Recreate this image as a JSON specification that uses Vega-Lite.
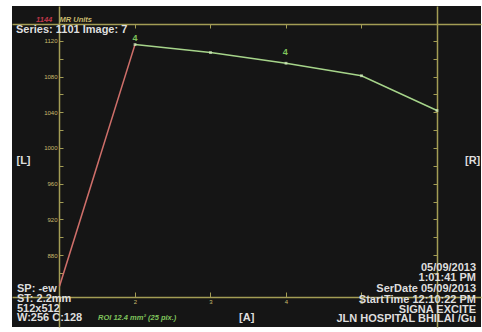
{
  "$schema": "https://vega.github.io/schema/vega-lite/v6.json",
  "width": 469,
  "height": 321,
  "autosize": {"type": "none"},
  "padding": {"left": 12, "top": 6, "right": 1, "bottom": 5},
  "background": "white",
  "config": {
    "view": {"fill": "#151515", "stroke": null},
    "font": "Liberation Sans",
    "axis": {"domainColor": "#a39d55", "tickColor": "#a39d55", "labelColor": "#c9bc6e", "labelFont": "Liberation Sans", "labelFontSize": 6, "grid": false, "title": null, "domainWidth": 1.5, "tickWidth": 1}
  },
  "datasets": {
    "red": [{"t": 1, "v": 845}, {"t": 2, "v": 1116}],
    "green": [{"t": 2, "v": 1116}, {"t": 3, "v": 1107}, {"t": 4, "v": 1095}, {"t": 5, "v": 1081}, {"t": 6, "v": 1042}],
    "notesL": [
      {"x": 0.424, "y": 1132.3, "label": "Series: 1101 Image: 7", "kind": "white"},
      {"x": 0.43, "y": 985.5, "label": "[L]", "kind": "white"},
      {"x": 6.371, "y": 985.5, "label": "[R]", "kind": "white"},
      {"x": 0.437, "y": 841.9, "label": "SP: -ew", "kind": "white"},
      {"x": 0.437, "y": 830.8, "label": "ST:  2.2mm", "kind": "white"},
      {"x": 0.437, "y": 819.6, "label": "512x512", "kind": "white"},
      {"x": 0.437, "y": 809.5, "label": "W:256 C:128", "kind": "white"},
      {"x": 3.378, "y": 809.5, "label": "[A]", "kind": "white"}
    ],
    "notesS": [
      {"x": 0.69, "y": 1143.5, "label": "1144", "kind": "red"},
      {"x": 1.0, "y": 1143.5, "label": "MR Units", "kind": "yellow"},
      {"x": 1.51, "y": 809.5, "label": "ROI 12.4 mm² (25 pix.)", "kind": "green"}
    ],
    "notesR": [
      {"x": 6.517, "y": 865.5, "label": "05/09/2013", "kind": "white"},
      {"x": 6.517, "y": 854.3, "label": "1:01:41 PM", "kind": "white"},
      {"x": 6.517, "y": 841.9, "label": "SerDate 05/09/2013", "kind": "white"},
      {"x": 6.517, "y": 829.6, "label": "StartTime 12:10:22 PM", "kind": "white"},
      {"x": 6.517, "y": 818.4, "label": "SIGNA EXCITE", "kind": "white"},
      {"x": 6.517, "y": 808.3, "label": "JLN HOSPITAL BHILAI /Gu", "kind": "white"}
    ],
    "notesC": [
      {"x": 2.0, "y": 1123.4, "label": "4", "kind": "green"},
      {"x": 3.99, "y": 1107.7, "label": "4", "kind": "green"}
    ]
  },
  "resolve": {"axis": {"x": "independent", "y": "independent"}},
  "layer": [
    {
      "data": {"name": "red"},
      "mark": {"type": "line", "color": "#cf6f6a", "strokeWidth": 1.5},
      "encoding": {
        "x": {"field": "t", "type": "quantitative", "scale": {"domain": [0.3709, 6.5828], "nice": false, "zero": false},
          "axis": {"orient": "bottom", "offset": -30, "values": [2, 3, 4, 5], "tickSize": -5, "labelPadding": 6, "domain": true}},
        "y": {"field": "v", "type": "quantitative", "scale": {"domain": [799.3, 1159.2], "nice": false, "zero": false},
          "axis": {"orient": "left", "offset": -47, "values": [860, 880, 900, 920, 940, 960, 980, 1000, 1020, 1040, 1060, 1080, 1100, 1120], "tickSize": -4, "labelPadding": 6,
            "labelExpr": "datum.value % 40 == 0 ? datum.label : ''", "format": "d"}}
      }
    },
    {
      "data": {"name": "green"},
      "mark": {"type": "line", "color": "#a6d48a", "strokeWidth": 1.5},
      "encoding": {
        "x": {"field": "t", "type": "quantitative",
          "axis": {"orient": "top", "offset": -18, "values": [2, 3, 4, 5], "tickSize": -4, "labels": false}},
        "y": {"field": "v", "type": "quantitative",
          "axis": {"orient": "right", "offset": -44, "values": [860, 880, 900, 920, 940, 960, 980, 1000, 1020, 1040, 1060, 1080, 1100, 1120], "tickSize": -4, "labels": false}}
      }
    },
    {
      "data": {"name": "green"},
      "mark": {"type": "point", "shape": "square", "filled": true, "size": 8, "color": "#d6f0c0"},
      "encoding": {
        "x": {"field": "t", "type": "quantitative", "axis": null},
        "y": {"field": "v", "type": "quantitative", "axis": null}
      }
    },
    {
      "data": {"name": "notesL"},
      "mark": {"type": "text", "fontSize": 11, "fontWeight": "bold", "baseline": "middle", "align": "left"},
      "encoding": {
        "x": {"field": "x", "type": "quantitative", "axis": null},
        "y": {"field": "y", "type": "quantitative", "axis": null},
        "text": {"field": "label"},
        "color": {"field": "kind", "type": "nominal", "legend": null,
          "scale": {"domain": ["white", "red", "yellow", "green"], "range": ["#dedede", "#c0384a", "#c9bc6e", "#7fc35c"]}}
      }
    },
    {
      "data": {"name": "notesS"},
      "mark": {"type": "text", "fontSize": 7.5, "fontStyle": "italic", "fontWeight": "bold", "baseline": "middle", "align": "left"},
      "encoding": {
        "x": {"field": "x", "type": "quantitative", "axis": null},
        "y": {"field": "y", "type": "quantitative", "axis": null},
        "text": {"field": "label"},
        "color": {"field": "kind", "type": "nominal", "legend": null}
      }
    },
    {
      "data": {"name": "notesR"},
      "mark": {"type": "text", "fontSize": 11, "fontWeight": "bold", "baseline": "middle", "align": "right"},
      "encoding": {
        "x": {"field": "x", "type": "quantitative", "axis": null},
        "y": {"field": "y", "type": "quantitative", "axis": null},
        "text": {"field": "label"},
        "color": {"field": "kind", "type": "nominal", "legend": null}
      }
    },
    {
      "data": {"name": "notesC"},
      "mark": {"type": "text", "fontSize": 9, "fontWeight": "bold", "baseline": "middle", "align": "center"},
      "encoding": {
        "x": {"field": "x", "type": "quantitative", "axis": null},
        "y": {"field": "y", "type": "quantitative", "axis": null},
        "text": {"field": "label"},
        "color": {"field": "kind", "type": "nominal", "legend": null}
      }
    }
  ]
}
